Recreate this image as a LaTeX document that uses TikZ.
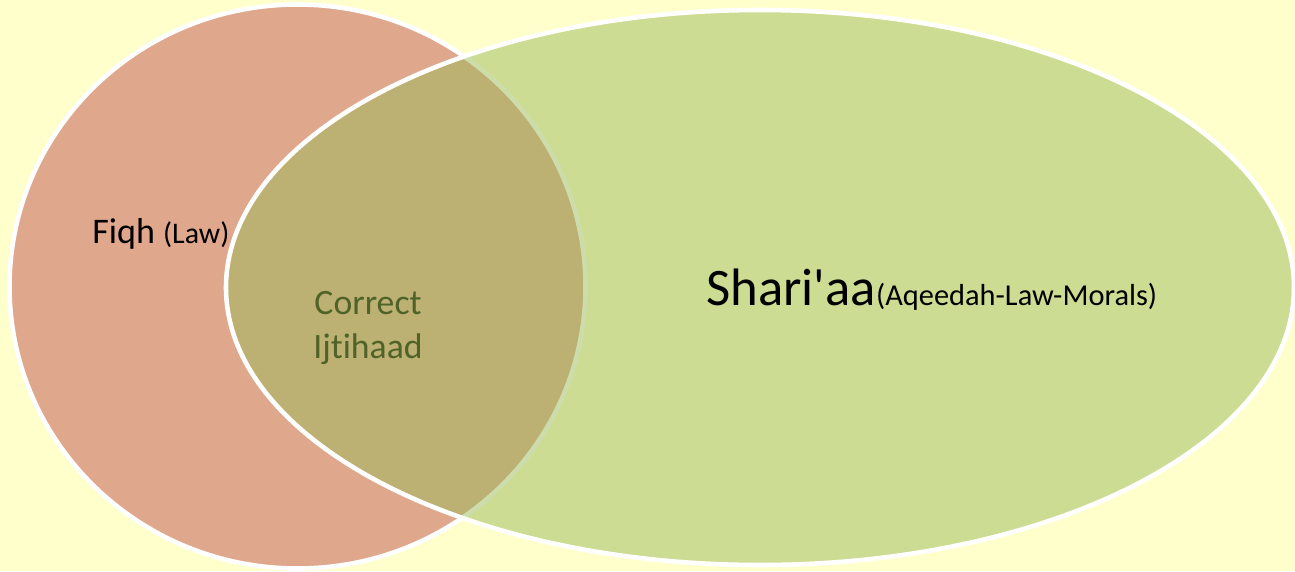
\documentclass[tikz,border=0pt]{standalone}
\usepackage{fontspec}
\setmainfont{Carlito}[Ligatures={NoCommon}]
\definecolor{paleyellow}{HTML}{FFFFCC}
\definecolor{fiqhred}{HTML}{C0504D}
\definecolor{shariagreen}{HTML}{9BBB59}
\definecolor{darkolive}{HTML}{4F6228}

\begin{document}
\begin{tikzpicture}

\fill [paleyellow] (0,0) rectangle (25.9,11.42);
\useasboundingbox (0,0) rectangle (25.9,11.42);

% the two sets
\fill [fiqhred,fill opacity=0.5] (5.95,5.69) ellipse [x radius=5.76,y radius=5.64];
\draw [white,line width=2.6pt] (5.95,5.69) ellipse [x radius=5.76,y radius=5.64];

\fill [shariagreen,fill opacity=0.5] (15.2,5.67) ellipse [x radius=10.68,y radius=5.55];
\draw [white,line width=2.6pt] (15.2,5.67) ellipse [x radius=10.68,y radius=5.55];

% some text
\node (fiqh) [anchor=base west,inner sep=0] at (1.84,6.56)
      {\fontsize{20.5}{24}\selectfont Fiqh {\fontsize{17}{20}\selectfont (Law)}};
\node (sharia) [anchor=base west,inner sep=0] at (14.12,5.32)
      {\fontsize{30}{35}\selectfont Shari\textquotesingle aa{\fontsize{17.3}{20}\selectfont (Aqeedah-Law-Morals)}};
\node (ijtihaad) [anchor=north,inner sep=0,align=center,darkolive,
      font=\fontsize{20.3}{25}\selectfont] at (7.36,5.60) {Correct\\Ijtihaad};

\end{tikzpicture}
\end{document}
